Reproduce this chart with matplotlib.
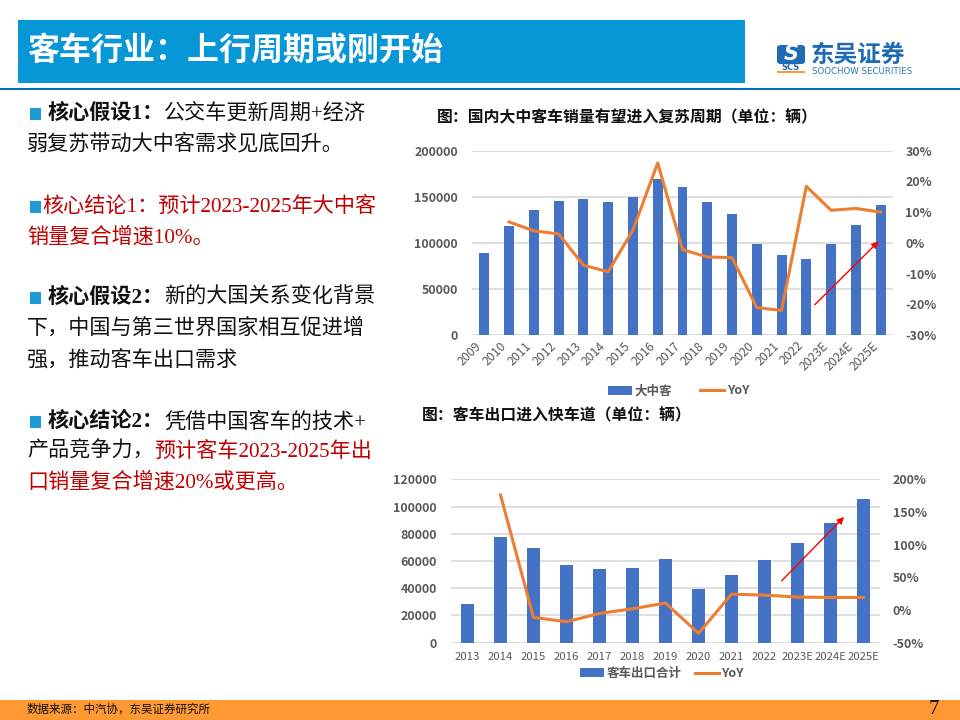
import numpy as np
import matplotlib
matplotlib.use("Agg")
import matplotlib.pyplot as plt
from matplotlib.patches import Rectangle, FancyBboxPatch
from matplotlib.ticker import FuncFormatter

# ---------------- data ----------------
years1 = ['2009', '2010', '2011', '2012', '2013', '2014', '2015', '2016', '2017',
          '2018', '2019', '2020', '2021', '2022', '2023E', '2024E', '2025E']
sales1 = [88800, 118400, 135400, 145100, 147700, 144800, 149800, 169700, 160600,
          144000, 131400, 98900, 87000, 83000, 98900, 119100, 141200]
yoy1 = [0.068, 0.039, 0.029, -0.073, -0.094, 0.042, 0.260, -0.022, -0.046,
        -0.048, -0.211, -0.220, 0.184, 0.106, 0.112, 0.100]   # from 2010

years2 = ['2013', '2014', '2015', '2016', '2017', '2018', '2019', '2020', '2021',
          '2022', '2023E', '2024E', '2025E']
export2 = [28100, 77700, 69200, 57200, 54000, 55200, 61300, 39600, 49400,
           61100, 73300, 88000, 105800]
yoy2 = [1.76, -0.113, -0.179, -0.052, 0.019, 0.106, -0.357, 0.243, 0.228,
        0.198, 0.192, 0.192]   # from 2014

title_main = '客车行业：上行周期或刚开始'
chart1_title = '图：国内大中客车销量有望进入复苏周期（单位：辆）'
chart2_title = '图：客车出口进入快车道（单位：辆）'
source_text = '数据来源：中汽协，东吴证券研究所'
page_no = '7'

# ---------------- styles ----------------
W, H = 960, 720
BAR = '#4472C4'
LINE = '#ED7D31'
GRID = '#D9D9D9'
TICK = '#595959'
RED = '#C00000'
BLK = '#111111'
CJK = ['Noto Sans CJK SC', 'DejaVu Sans']
BODY = ['Liberation Serif', 'Noto Sans CJK SC', 'DejaVu Sans']
plt.rcParams['font.family'] = CJK
plt.rcParams['axes.unicode_minus'] = False

fig = plt.figure(figsize=(9.6, 7.2), dpi=100)


def fx(x):
    return x / W


def fy(y):
    return 1 - y / H


def rect(x, y, w, h, color):
    fig.patches.append(Rectangle((fx(x), fy(y + h)), w / W, h / H,
                                 transform=fig.transFigure, color=color, lw=0))


# header
rect(18, 20, 727, 63, '#0796D6')
rect(0, 87.5, 960, 2.8, '#0070C0')
fig.text(fx(27), fy(51), title_main, color='white', fontsize=23,
         fontweight='bold', va='center', ha='left', family=CJK)

# logo
fig.patches.append(FancyBboxPatch((fx(777), fy(64)), 28 / W, 19 / H,
                                  boxstyle='round,pad=0,rounding_size=0.004',
                                  transform=fig.transFigure, color='#1F6CB5', lw=0))
fig.text(fx(791), fy(54.5), 'S', color='white', fontsize=15, fontweight='bold',
         style='italic', va='center', ha='center', family=['DejaVu Sans'])
fig.text(fx(791), fy(67.5), 'SCS', color='#1F6CB5', fontsize=6, fontweight='bold',
         va='center', ha='center', family=['DejaVu Sans'])
rect(777, 71, 28, 2, '#F39C34')
fig.text(fx(811), fy(55), '东吴证券', color='#1F6CB5', fontsize=17,
         fontweight='bold', va='center', ha='left', family=CJK)
fig.text(fx(812), fy(71), 'SOOCHOW SECURITIES', color='#2E75B6', fontsize=6.2,
         va='center', ha='left', family=['DejaVu Sans'])

# footer
rect(0, 700, 960, 20, '#FF9933')
fig.text(fx(27), fy(709.5), source_text, color=BLK, fontsize=8.3,
         va='center', ha='left', family=CJK)
fig.text(fx(934), fy(710), page_no, color=BLK, fontsize=15,
         va='center', ha='center', family=['Liberation Serif'])

# ---------------- left text ----------------
renderer = fig.canvas.get_renderer()
FS = 15.2


def seg_line(x, y, segs):
    for s, color, bold in segs:
        t = fig.text(fx(x), fy(y), s, color=color, fontsize=FS,
                     fontweight='bold' if bold else 'normal',
                     family=BODY, va='center', ha='left')
        bb = t.get_window_extent(renderer)
        x = bb.x1


def bullet(y):
    rect(29.5, y - 6, 11.5, 12, '#1E9BD7')


bullet(114)
seg_line(48, 114, [('核心假设1：', BLK, True), ('公交车更新周期+经济', BLK, False)])
seg_line(27, 144, [('弱复苏带动大中客需求见底回升。', BLK, False)])
bullet(207)
seg_line(42, 207, [('核心结论1：预计2023-2025年大中客', RED, False)])
seg_line(27, 237, [('销量复合增速10%。', RED, False)])
bullet(298)
seg_line(48, 298, [('核心假设2：', BLK, True), ('新的大国关系变化背景', BLK, False)])
seg_line(27, 329, [('下，中国与第三世界国家相互促进增', BLK, False)])
seg_line(27, 360, [('强，推动客车出口需求', BLK, False)])
bullet(422)
seg_line(48, 422, [('核心结论2：', BLK, True), ('凭借中国客车的技术+', BLK, False)])
seg_line(27, 452, [('产品竞争力，', BLK, False), ('预计客车2023-2025年出', RED, False)])
seg_line(27, 482, [('口销量复合增速20%或更高。', RED, False)])


# ---------------- chart helpers ----------------
def pct(v, p):
    return f'{int(round(v * 100))}%'


def style_ax(ax):
    for s in ax.spines.values():
        s.set_visible(False)
    ax.tick_params(length=0)


# ---------------- chart 1 ----------------
fig.text(fx(437), fy(117), chart1_title, color=BLK, fontsize=11.4,
         fontweight='bold', va='center', ha='left', family=CJK)
ax1 = fig.add_axes([fx(472), fy(335), 421 / W, 184.3 / H])
x1 = np.arange(len(years1))
b1 = ax1.bar(x1, sales1, width=0.4, color=BAR, zorder=2)
ax1.set_xlim(-0.5, len(years1) - 0.5)
ax1.set_ylim(0, 200000)
ax1.set_yticks(np.arange(0, 200001, 50000))
ax1.yaxis.grid(True, color=GRID, lw=1.2)
ax1.set_axisbelow(True)
style_ax(ax1)
ax1.set_xticks(x1)
ax1.set_xticklabels(years1, rotation=45, ha='right', fontsize=8.8, color=TICK)
ax1.tick_params(axis='x', pad=3)
ax1.tick_params(axis='y', pad=10, labelsize=9, labelcolor=TICK)
for lab in ax1.get_yticklabels():
    lab.set_fontweight('bold')
ax1b = ax1.twinx()
l1, = ax1b.plot(x1[1:], yoy1, color=LINE, lw=2.2, zorder=3)
ax1b.set_ylim(-0.3, 0.3)
ax1b.set_yticks(np.linspace(-0.3, 0.3, 7))
ax1b.yaxis.set_major_formatter(FuncFormatter(pct))
style_ax(ax1b)
ax1b.tick_params(axis='y', pad=9, labelsize=9, labelcolor=TICK)
for lab in ax1b.get_yticklabels():
    lab.set_fontweight('bold')
ax1.annotate('', xy=(16.0, 103800), xytext=(13.26, 30700),
             arrowprops=dict(arrowstyle='-|>', color='red', lw=1.0,
                             mutation_scale=10), zorder=5)
leg1 = ax1.legend([b1, l1], ['大中客', 'YoY'], loc='center',
                  bbox_to_anchor=(fx(678.5), fy(391)), bbox_transform=fig.transFigure,
                  ncol=2, frameon=False, handlelength=1.9, handleheight=0.75,
                  handletextpad=0.2, columnspacing=2.3, labelcolor=TICK,
                  prop=dict(family=CJK, size=9, weight='bold'))

# ---------------- chart 2 ----------------
fig.text(fx(422), fy(415), chart2_title, color=BLK, fontsize=11.4,
         fontweight='bold', va='center', ha='left', family=CJK)
ax2 = fig.add_axes([fx(451), fy(642.7), 429 / W, 163.4 / H])
x2 = np.arange(len(years2))
b2 = ax2.bar(x2, export2, width=0.4, color=BAR, zorder=2)
ax2.set_xlim(-0.5, len(years2) - 0.5)
ax2.set_ylim(0, 120000)
ax2.set_yticks(np.arange(0, 120001, 20000))
ax2.yaxis.grid(True, color=GRID, lw=1.2)
ax2.set_axisbelow(True)
style_ax(ax2)
ax2.set_xticks(x2)
ax2.set_xticklabels(years2, fontsize=8.2, color=TICK)
ax2.tick_params(axis='x', pad=7)
ax2.tick_params(axis='y', pad=10, labelsize=9, labelcolor=TICK)
for lab in ax2.get_yticklabels():
    lab.set_fontweight('bold')
ax2b = ax2.twinx()
l2, = ax2b.plot(x2[1:], yoy2, color=LINE, lw=2.2, zorder=3)
ax2b.set_ylim(-0.5, 2.0)
ax2b.set_yticks(np.linspace(-0.5, 2.0, 6))
ax2b.yaxis.set_major_formatter(FuncFormatter(pct))
style_ax(ax2b)
ax2b.tick_params(axis='y', pad=9, labelsize=9, labelcolor=TICK)
for lab in ax2b.get_yticklabels():
    lab.set_fontweight('bold')
ax2.annotate('', xy=(11.47, 93800), xytext=(9.46, 44000),
             arrowprops=dict(arrowstyle='-|>', color='red', lw=1.0,
                             mutation_scale=10), zorder=5)
leg2 = ax2.legend([b2, l2], ['客车出口合计', 'YoY'], loc='center',
                  bbox_to_anchor=(fx(662), fy(673.5)), bbox_transform=fig.transFigure,
                  ncol=2, frameon=False, handlelength=1.9, handleheight=0.75,
                  handletextpad=0.2, columnspacing=1.1, labelcolor=TICK,
                  prop=dict(family=CJK, size=9, weight='bold'))

fig.savefig('out.png', dpi=100)
